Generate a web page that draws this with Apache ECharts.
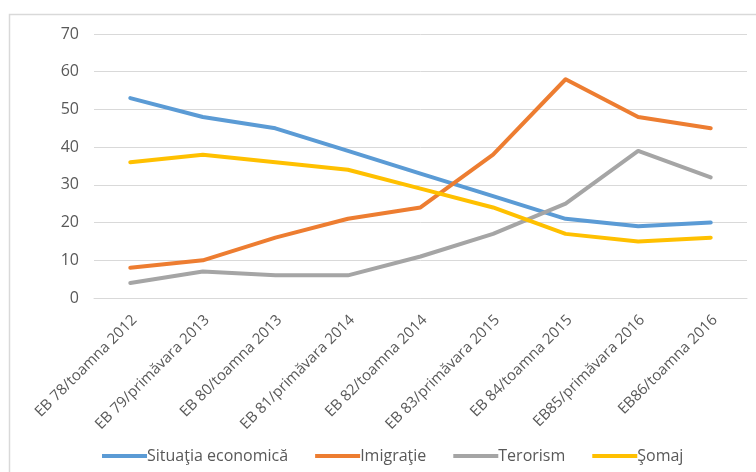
<!DOCTYPE html>
<html>
<head>
<meta charset="utf-8">
<script src="https://cdn.jsdelivr.net/npm/echarts@6/dist/echarts.min.js"></script>
<style>
  html, body { margin: 0; padding: 0; background: #ffffff; }
  #chart { width: 756px; height: 472px; }
</style>
</head>
<body>
<div id="chart"></div>
<script>
// Eurobarometer survey waves
const categories = [
  'EB 78/toamna 2012',
  'EB 79/primăvara 2013',
  'EB 80/toamna 2013',
  'EB 81/primăvara 2014',
  'EB 82/toamna 2014',
  'EB 83/primăvara 2015',
  'EB 84/toamna 2015',
  'EB85/primăvara 2016',
  'EB86/toamna 2016'
];

// Share of mentions per topic (%)
const situatiaEconomica = [53, 48, 45, 39, 33, 27, 21, 19, 20];
const imigratie = [8, 10, 16, 21, 24, 38, 58, 48, 45];
const terorism = [4, 7, 6, 6, 11, 17, 25, 39, 32];
const somaj = [36, 38, 36, 34, 29, 24, 17, 15, 16];

const seriesNames = ['Situaţia economică', 'Imigraţie', 'Terorism', 'Şomaj'];
const seriesData = [situatiaEconomica, imigratie, terorism, somaj];
const seriesColors = ['#5B9BD5', '#ED7D31', '#A5A5A5', '#FFC000'];

const yTicks = { min: 0, max: 70, interval: 10 };

const textColor = '#595959';
const fontFamily = '"Open Sans", "Liberation Sans", sans-serif';

const chart = echarts.init(document.getElementById('chart'), null, { renderer: 'canvas' });

chart.setOption({
  animation: false,
  backgroundColor: '#ffffff',
  graphic: [{
    type: 'rect',
    silent: true,
    shape: { x: 9.5, y: 14.5, width: 800, height: 500 },
    style: { fill: 'none', stroke: '#d9d9d9', lineWidth: 1.5 }
  }],
  grid: { left: 94, right: 9, top: 34, bottom: 174 },
  legend: {
    left: 97,
    top: 443,
    itemGap: 27,
    itemWidth: 45,
    itemHeight: 4,
    icon: 'rect',
    textStyle: { color: textColor, fontFamily: fontFamily, fontSize: 16, padding: [0, 0, 0, -5] },
    data: seriesNames
  },
  xAxis: {
    type: 'category',
    data: categories,
    boundaryGap: true,
    axisLine: { show: true, lineStyle: { color: '#d9d9d9', width: 1 } },
    axisTick: { show: false },
    axisLabel: {
      interval: 0,
      rotate: 45,
      margin: 24,
      color: textColor,
      fontFamily: fontFamily,
      fontSize: 15,
      padding: [0, -6, 0, 0]
    }
  },
  yAxis: {
    type: 'value',
    min: yTicks.min,
    max: yTicks.max,
    interval: yTicks.interval,
    axisLine: { show: false },
    axisTick: { show: false },
    axisLabel: { margin: 15, color: textColor, fontFamily: fontFamily, fontSize: 16 },
    splitLine: { lineStyle: { color: '#d9d9d9', width: 1 } }
  },
  series: seriesNames.map((name, i) => ({
    name: name,
    type: 'line',
    data: seriesData[i],
    symbol: 'none',
    color: seriesColors[i],
    lineStyle: { width: 4, color: seriesColors[i], cap: 'round', join: 'round' }
  }))
});
</script>
</body>
</html>
